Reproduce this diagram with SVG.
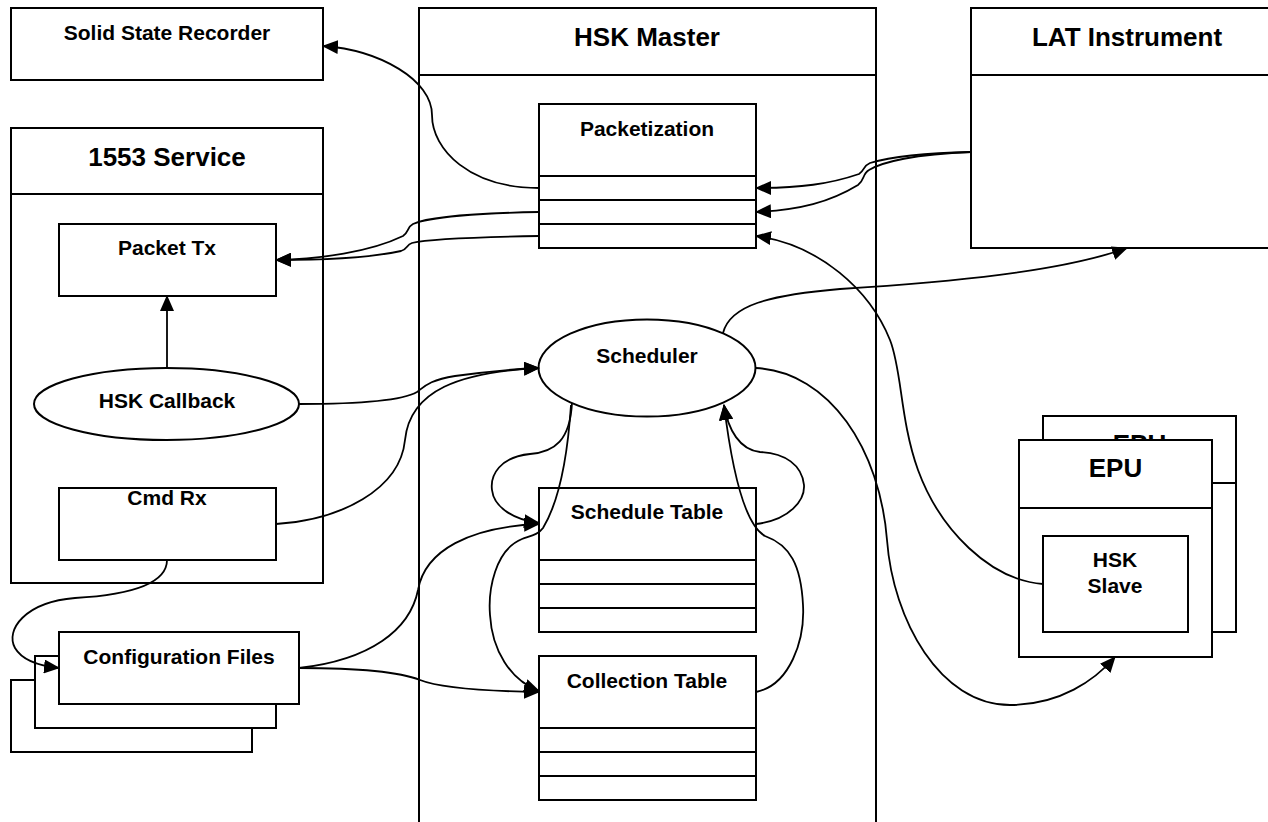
<svg xmlns="http://www.w3.org/2000/svg" width="1268" height="822" viewBox="0 0 1268 822">
<style>
.box{fill:#fff;stroke:#000;stroke-width:2}
.ln{fill:none;stroke:#000;stroke-width:2}
.t{font-family:"Liberation Sans",Arial,sans-serif;font-weight:bold;fill:#000;text-anchor:middle}
.s21{font-size:21px}
.s26{font-size:26px}
.c{fill:none;stroke:#000;stroke-width:1.8}
.ca{fill:none;stroke:#000;stroke-width:1.8;marker-end:url(#arr)}
</style>
<defs>
<marker id="arr" viewBox="0 0 16 14" refX="15" refY="7" markerWidth="16" markerHeight="14" markerUnits="userSpaceOnUse" orient="auto">
<path d="M0,0 L16,7 L0,14 Z" fill="#000"/>
</marker>
</defs>
<rect width="1268" height="822" fill="#fff"/>

<g id="ssr">
<rect class="box" x="11" y="8" width="312" height="72"/>
<text class="t s21" x="167" y="40">Solid State Recorder</text>
</g>

<g id="service1553">
<rect class="box" x="11" y="128" width="312" height="455"/>
<line class="ln" x1="11" y1="194" x2="323" y2="194"/>
<text class="t s26" x="167" y="166">1553 Service</text>
</g>

<g id="hskmaster">
<rect class="box" x="419" y="8" width="457" height="830"/>
<line class="ln" x1="419" y1="75" x2="876" y2="75"/>
<text class="t s26" x="647" y="46">HSK Master</text>
</g>

<g id="lat">
<rect class="box" x="971" y="8" width="312" height="240"/>
<line class="ln" x1="971" y1="75" x2="1283" y2="75"/>
<text class="t s26" x="1127" y="46">LAT Instrument</text>
</g>

<g id="packettx">
<rect class="box" x="59" y="224" width="217" height="72"/>
<text class="t s21" x="167" y="255">Packet Tx</text>
</g>

<g id="hskcallback">
<ellipse class="box" cx="166.5" cy="404" rx="132.5" ry="36"/>
<text class="t s21" x="167" y="408">HSK Callback</text>
</g>

<g id="cmdrx">
<rect class="box" x="59" y="488" width="217" height="72"/>
<text class="t s21" x="167" y="505">Cmd Rx</text>
</g>

<g id="configfiles">
<rect class="box" x="11" y="680" width="241" height="72"/>
<rect class="box" x="35" y="656" width="241" height="72"/>
<rect class="box" x="59" y="632" width="240" height="72"/>
<text class="t s21" x="179" y="664">Configuration Files</text>
</g>

<g id="packetization">
<rect class="box" x="539" y="104" width="217" height="144"/>
<line class="ln" x1="539" y1="176" x2="756" y2="176"/>
<line class="ln" x1="539" y1="200" x2="756" y2="200"/>
<line class="ln" x1="539" y1="224" x2="756" y2="224"/>
<text class="t s21" x="647" y="136">Packetization</text>
</g>

<g id="scheduler">
<ellipse class="box" cx="647" cy="368" rx="108.5" ry="48.5"/>
<text class="t s21" x="647" y="363">Scheduler</text>
</g>

<g id="scheduletable">
<rect class="box" x="539" y="488" width="217" height="144"/>
<line class="ln" x1="539" y1="560" x2="756" y2="560"/>
<line class="ln" x1="539" y1="584" x2="756" y2="584"/>
<line class="ln" x1="539" y1="608" x2="756" y2="608"/>
<text class="t s21" x="647" y="519">Schedule Table</text>
</g>

<g id="collectiontable">
<rect class="box" x="539" y="656" width="217" height="144"/>
<line class="ln" x1="539" y1="728" x2="756" y2="728"/>
<line class="ln" x1="539" y1="752" x2="756" y2="752"/>
<line class="ln" x1="539" y1="776" x2="756" y2="776"/>
<text class="t s21" x="647" y="688">Collection Table</text>
</g>

<g id="epu">
<rect class="box" x="1043" y="416" width="193" height="216"/>
<line class="ln" x1="1043" y1="483" x2="1236" y2="483"/>
<text class="t s26" x="1139.5" y="453">EPU</text>
<rect class="box" x="1019" y="440" width="193" height="217"/>
<line class="ln" x1="1019" y1="508" x2="1212" y2="508"/>
<text class="t s26" x="1115.5" y="477">EPU</text>
</g>

<g id="hskslave">
<rect class="box" x="1043" y="536" width="145" height="96"/>
<text class="t s21" x="1115" y="567">HSK</text>
<text class="t s21" x="1115" y="593">Slave</text>
</g>

<g id="connectors">
<!-- Packetization row1 -> Solid State Recorder -->
<path class="ca" d="M539,188 C470,188 432,150 432,115 C432,80 380,50 323,46"/>
<!-- Packetization rows -> Packet Tx -->
<path class="ca" d="M539,212 C480,213 428,217 413,224 C407,227 409,232 403,236 C370,252 320,259 276,260"/>
<path class="ca" d="M539,236 C480,237 428,239 412,243 C406,245 408,249 401,251 C370,258 320,260 276,260"/>
<!-- LAT -> Packetization rows -->
<path class="ca" d="M971,152 C925,153 890,157 870,163 C863,166 865,170 859,174 C830,184 800,188 756,188"/>
<path class="ca" d="M971,152 C915,154 882,162 869,170 C862,174 865,180 858,185 C830,202 800,210 756,212"/>
<!-- HSK Slave -> Packetization row3 -->
<path class="ca" d="M1043,584 C990,580 940,530 918,470 C900,420 902,370 890,340 C870,290 820,245 756,236"/>
<!-- HSK Callback -> Packet Tx -->
<path class="ca" d="M167,368 L167,296"/>
<!-- Scheduler -> LAT -->
<path class="ca" d="M723,333 C730,305 770,295 840,289 C950,282 1060,272 1127,248"/>
<!-- Scheduler -> EPU -->
<path class="ca" d="M756,368 C830,372 880,450 887,540 C893,620 940,705 1010,705 C1060,705 1095,680 1115,657"/>
<!-- HSK Callback -> Scheduler -->
<path class="ca" d="M299,404 C350,404 400,402 417,392 C425,386 430,380 455,376 C490,371 515,369 539,368"/>
<!-- Cmd Rx -> Scheduler -->
<path class="ca" d="M276,524 C340,520 400,490 405,440 C410,390 460,372 539,368"/>
<!-- Cmd Rx -> Configuration Files -->
<path class="ca" d="M167,560 C167,590 110,596 75,598 C25,602 5,630 15,648 C22,660 40,666 59,668"/>
<!-- Configuration Files -> Schedule Table -->
<path class="ca" d="M299,668 C370,660 410,630 418,590 C425,550 470,527 539,524"/>
<!-- Configuration Files -> Collection Table -->
<path class="ca" d="M299,668 C360,668 400,672 420,680 C440,688 480,691 539,692"/>
<!-- Scheduler -> Schedule Table (loop) -->
<path class="ca" d="M572,403 C570,440 555,452 530,454 C500,457 490,475 492,490 C494,508 515,520 539,523"/>
<!-- Scheduler -> Collection Table -->
<path class="ca" d="M571,405 C568,450 560,500 543,528 C538,535 530,536 522,539 C495,550 488,590 490,615 C492,650 510,680 539,691"/>
<!-- Schedule Table -> Scheduler -->
<path class="ca" d="M756,524 C790,520 805,500 804,485 C802,465 785,453 760,452 C740,450 728,430 724,405"/>
<!-- Collection Table -> Scheduler -->
<path class="ca" d="M756,692 C790,685 805,640 803,605 C801,565 790,545 765,536 C745,525 732,470 724,405"/>
</g>
</svg>
